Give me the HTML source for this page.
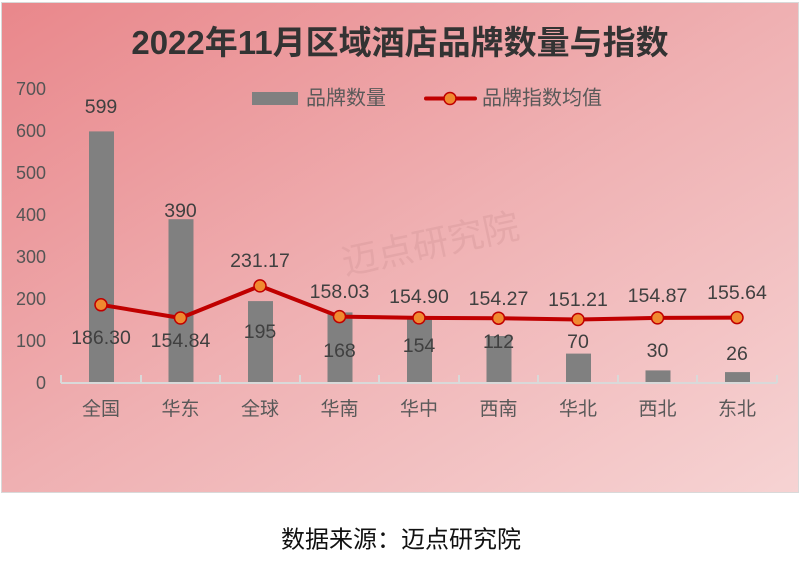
<!DOCTYPE html>
<html><head><meta charset="utf-8"><style>
html,body{margin:0;padding:0;background:#fff;width:800px;height:572px;overflow:hidden}
svg{display:block;font-family:"Liberation Sans","Noto Sans CJK SC",sans-serif}
</style></head><body>
<svg width="800" height="572" viewBox="0 0 800 572">
<defs>
<linearGradient id="bg" x1="0" y1="0" x2="1" y2="1">
<stop offset="0" stop-color="#e9878b"/>
<stop offset="0.5" stop-color="#efb0b2"/>
<stop offset="1" stop-color="#f6d3d3"/>
</linearGradient>
</defs>
<rect x="1.5" y="2.5" width="797" height="490" fill="url(#bg)" stroke="#d9d9d9" stroke-width="1"/>
<text x="400" y="54" text-anchor="middle" font-size="33" font-weight="bold" fill="#333">2022年11月区域酒店品牌数量与指数</text>
<text x="345" y="275" font-size="36" fill="#d89a9c" opacity="0.45" transform="rotate(-12 345 275)">迈点研究院</text>
<g font-size="18" fill="#555" text-anchor="end" dominant-baseline="middle">
<text x="46" y="90">700</text><text x="46" y="132">600</text><text x="46" y="174">500</text>
<text x="46" y="216">400</text><text x="46" y="258">300</text><text x="46" y="300">200</text>
<text x="46" y="342">100</text><text x="46" y="384">0</text>
</g>
<g fill="#808080">
<rect x="89" y="131.4" width="25" height="251.6"/>
<rect x="168.5" y="219.2" width="25" height="163.8"/>
<rect x="248" y="301.1" width="25" height="81.9"/>
<rect x="327.5" y="312.4" width="25" height="70.6"/>
<rect x="407" y="318.3" width="25" height="64.7"/>
<rect x="486.5" y="336" width="25" height="47"/>
<rect x="566" y="353.6" width="25" height="29.4"/>
<rect x="645.5" y="370.4" width="25" height="12.6"/>
<rect x="725" y="372.1" width="25" height="10.9"/>
</g>
<g stroke="#d9d9d9" stroke-width="2" fill="none">
<line x1="61" y1="383" x2="777" y2="383"/>
<path d="M61 375V383M141 375V383M220 375V383M300 375V383M379 375V383M459 375V383M538 375V383M618 375V383M697 375V383M777 375V383"/>
</g>
<polyline points="101,304.8 180.5,318 260,285.9 339.5,316.6 419,317.9 498.5,318.2 578,319.5 657.5,317.9 737,317.6" fill="none" stroke="#c00000" stroke-width="4" stroke-linejoin="round"/>
<g fill="#f08a30" stroke="#c00000" stroke-width="1.5">
<circle cx="101" cy="304.8" r="6"/><circle cx="180.5" cy="318" r="6"/><circle cx="260" cy="285.9" r="6"/>
<circle cx="339.5" cy="316.6" r="6"/><circle cx="419" cy="317.9" r="6"/><circle cx="498.5" cy="318.2" r="6"/>
<circle cx="578" cy="319.5" r="6"/><circle cx="657.5" cy="317.9" r="6"/><circle cx="737" cy="317.6" r="6"/>
</g>
<g font-size="19.5" fill="#404040" text-anchor="middle" dominant-baseline="middle">
<text x="101" y="108">599</text><text x="180.5" y="212">390</text><text x="260" y="333">195</text>
<text x="339.5" y="352">168</text><text x="419" y="347">154</text><text x="498.5" y="343">112</text>
<text x="578" y="343">70</text><text x="657.5" y="352">30</text><text x="737" y="355">26</text>
<text x="101" y="339">186.30</text><text x="180.5" y="342">154.84</text><text x="260" y="262">231.17</text>
<text x="339.5" y="293">158.03</text><text x="419" y="298">154.90</text><text x="498.5" y="300">154.27</text>
<text x="578" y="301">151.21</text><text x="657.5" y="297">154.87</text><text x="737" y="294">155.64</text>
</g>
<g font-size="19" fill="#595959" text-anchor="middle" dominant-baseline="middle">
<text x="101" y="410">全国</text><text x="180.5" y="410">华东</text><text x="260" y="410">全球</text>
<text x="339.5" y="410">华南</text><text x="419" y="410">华中</text><text x="498.5" y="410">西南</text>
<text x="578" y="410">华北</text><text x="657.5" y="410">西北</text><text x="737" y="410">东北</text>
</g>
<rect x="252" y="92" width="46" height="13" fill="#808080"/>
<text x="306" y="99" font-size="20" fill="#595959" dominant-baseline="middle">品牌数量</text>
<line x1="426" y1="98.5" x2="475" y2="98.5" stroke="#c00000" stroke-width="4" stroke-linecap="round"/>
<circle cx="450" cy="98.5" r="6" fill="#f08a30" stroke="#c00000" stroke-width="1.5"/>
<text x="482" y="99" font-size="20" fill="#595959" dominant-baseline="middle">品牌指数均值</text>
<text x="401" y="541" font-size="24" fill="#111" text-anchor="middle" dominant-baseline="middle">数据来源：迈点研究院</text>
</svg>
</body></html>
